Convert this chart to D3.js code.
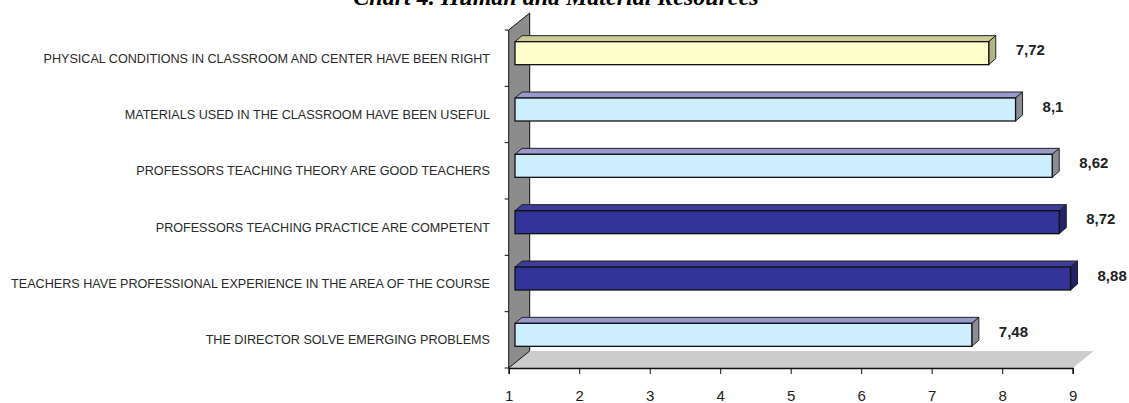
<!DOCTYPE html>
<html>
<head>
<meta charset="utf-8">
<script src="https://cdn.jsdelivr.net/npm/d3@7"></script>
<style>
  body { margin: 0; background: #fff; }
  svg { display: block; }
</style>
</head>
<body>
<div id="chart"></div>
<script>
const categories = [
  "PHYSICAL CONDITIONS IN CLASSROOM AND CENTER HAVE BEEN RIGHT",
  "MATERIALS USED IN THE CLASSROOM HAVE BEEN USEFUL",
  "PROFESSORS TEACHING THEORY ARE GOOD TEACHERS",
  "PROFESSORS TEACHING PRACTICE ARE COMPETENT",
  "TEACHERS HAVE PROFESSIONAL EXPERIENCE IN THE AREA OF THE COURSE",
  "THE DIRECTOR SOLVE EMERGING PROBLEMS",
];
const values = [7.72, 8.1, 8.62, 8.72, 8.88, 7.48];
const xTicks = [1, 2, 3, 4, 5, 6, 7, 8, 9];
const title = "Chart 4. Human and Material Resources";

// front / top / end face colours per bar
const yellow = ["#ffffcc", "#cccc99", "#b3b38a"];
const light = ["#cceeff", "#9999cc", "#8c8c96"];
const navy = ["#333399", "#3d3d99", "#222266"];
const barColors = [yellow, light, light, navy, navy, light];

const W = 1129, H = 403;
const margin = { top: 30, left: 508.7, right: W - 1072.7, bottom: H - 368 };
const depth = { dx: 21, dy: -17 };   // wall / floor depth
const barShift = { dx: 6.3, dy: -5 }; // bars sit a bit behind the front plane
const barDepth = { dx: 7, dy: -6 };
const barH = 23;

const svg = d3.select("#chart").append("svg").attr("width", W).attr("height", H);

const x = d3.scaleLinear().domain([1, 9]).range([margin.left, W - margin.right]);
const y = d3.scaleBand().domain(categories).range([margin.top, H - margin.bottom]);

const x0 = x.range()[0], x1 = x.range()[1];
const yTop = y.range()[0], yBot = y.range()[1];

// floor
svg.append("path")
  .attr("d", `M${x0},${yBot}L${x1},${yBot}L${x1 + depth.dx},${yBot + depth.dy}L${x0 + depth.dx},${yBot + depth.dy}Z`)
  .attr("fill", "#cccccc");

// wall
svg.append("path")
  .attr("d", `M${x0},${yTop}L${x0 + depth.dx},${yTop + depth.dy}L${x0 + depth.dx},${yBot + depth.dy}L${x0},${yBot}Z`)
  .attr("fill", "#8c8c8c")
  .attr("stroke", "#111")
  .attr("stroke-width", 1);

// category axis ticks (band boundaries) on the front plane
const bounds = categories.map((c) => y(c)).concat([yBot]);
svg.append("g").selectAll("line").data(bounds).join("line")
  .attr("x1", x0 - 4).attr("x2", x0)
  .attr("y1", (d) => d).attr("y2", (d) => d)
  .attr("stroke", "#111");

// category labels
svg.append("g").selectAll("text").data(categories).join("text")
  .attr("x", 490)
  .attr("y", (d) => y(d) + y.bandwidth() / 2)
  .attr("dy", "0.35em")
  .attr("text-anchor", "end")
  .style("font-family", "Liberation Sans, Arial, sans-serif")
  .style("font-size", "12.6px")
  .style("fill", "#2a2a2a")
  .text((d) => d);

// bars
const bars = svg.append("g").selectAll("g").data(values).join("g");

const bx0 = x(1) + barShift.dx;
const bTop = (d, i) => y(categories[i]) + y.bandwidth() / 2 - barH / 2 + barShift.dy;

bars.append("path") // top face
  .attr("d", (d, i) => {
    const t = bTop(d, i), xe = x(d) + barShift.dx;
    return `M${bx0},${t}L${bx0 + barDepth.dx},${t + barDepth.dy}L${xe + barDepth.dx},${t + barDepth.dy}L${xe},${t}Z`;
  })
  .attr("fill", (d, i) => barColors[i][1])
  .attr("stroke", "#222").attr("stroke-width", 1).attr("stroke-linejoin", "round");

bars.append("path") // end face
  .attr("d", (d, i) => {
    const t = bTop(d, i), xe = x(d) + barShift.dx;
    return `M${xe},${t}L${xe + barDepth.dx},${t + barDepth.dy}L${xe + barDepth.dx},${t + barDepth.dy + barH}L${xe},${t + barH}Z`;
  })
  .attr("fill", (d, i) => barColors[i][2])
  .attr("stroke", "#222").attr("stroke-width", 1).attr("stroke-linejoin", "round");

bars.append("rect") // front face
  .attr("x", bx0)
  .attr("y", (d, i) => bTop(d, i))
  .attr("width", (d) => x(d) - x(1))
  .attr("height", barH)
  .attr("fill", (d, i) => barColors[i][0])
  .attr("stroke", "#111").attr("stroke-width", 1.3);

// value labels
bars.append("text")
  .attr("x", (d) => x(d) + barShift.dx + 27)
  .attr("y", (d, i) => y(categories[i]) + y.bandwidth() / 2 - 8)
  .attr("dy", "0.35em")
  .style("font-family", "Liberation Sans, Arial, sans-serif")
  .style("font-weight", "bold")
  .style("font-size", "15px")
  .style("fill", "#222")
  .text((d) => String(d).replace(".", ","));

// x axis
const xAxis = svg.append("g")
  .attr("transform", `translate(0,${yBot})`)
  .call(d3.axisBottom(x).tickValues(xTicks).tickSize(6).tickPadding(16).tickFormat(d3.format("d")));
xAxis.select(".domain").attr("stroke", "#111").attr("stroke-width", 1.5);
xAxis.selectAll(".tick line").attr("stroke", "#111");
xAxis.selectAll(".tick text")
  .style("font-family", "Liberation Sans, Arial, sans-serif")
  .style("font-size", "15px")
  .style("fill", "#222");

// title (mostly clipped at top edge, as in the source image)
svg.append("text")
  .attr("x", 556)
  .attr("y", 5)
  .attr("text-anchor", "middle")
  .style("font-family", "Liberation Serif, Times New Roman, serif")
  .style("font-weight", "bold")
  .style("font-style", "italic")
  .style("font-size", "24px")
  .style("fill", "#000")
  .text(title);
</script>
</body>
</html>
